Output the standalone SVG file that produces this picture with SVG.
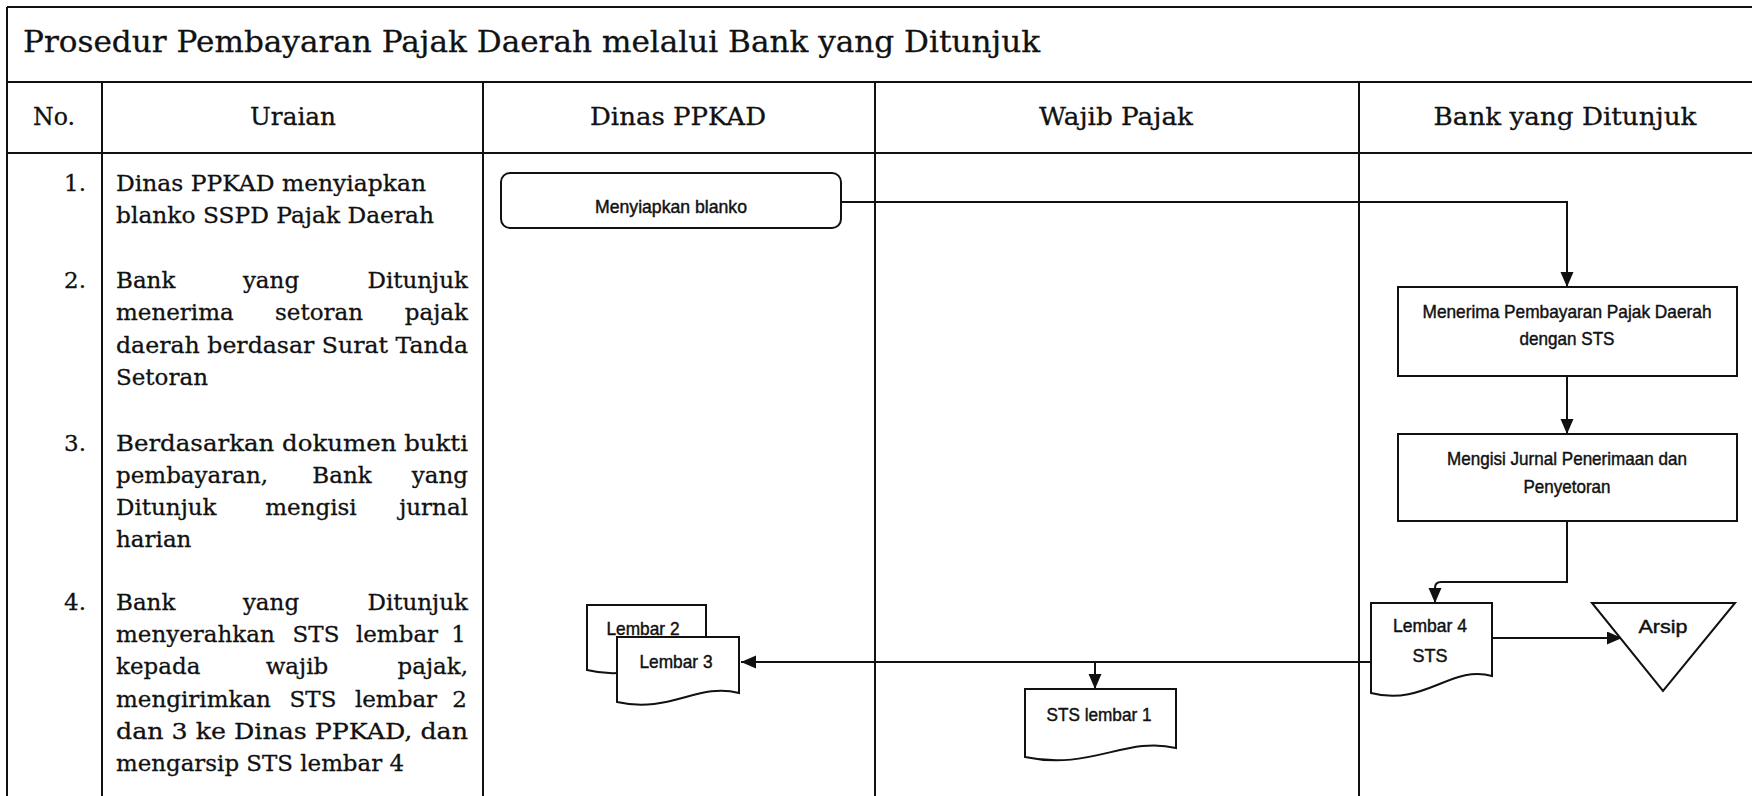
<svg xmlns="http://www.w3.org/2000/svg" width="1752" height="796" viewBox="0 0 1752 796">
<style>
.grid{stroke:#111;stroke-width:2;fill:none}
.ln{stroke:#111;stroke-width:2;fill:none}
.box{fill:#fff;stroke:#111;stroke-width:2}
.t{font-family:"DejaVu Serif","Liberation Serif",serif;fill:#111;stroke:#111;stroke-width:0.3}
.title{font-size:30px}
.hd{font-size:25px;text-anchor:middle}
.bd{font-size:23px}
.num{font-size:23px;text-anchor:end}
.mid{text-anchor:middle}
.end{text-anchor:end}
.fc{font-family:"Liberation Sans",Arial,sans-serif;font-size:19px;fill:#111;stroke:#111;stroke-width:0.45;text-anchor:middle}
</style>
<defs>
<marker id="arr" markerUnits="userSpaceOnUse" markerWidth="16" markerHeight="14" refX="15" refY="6.5" orient="auto">
<path d="M0,0 L15,6.5 L0,13 z" fill="#111"/>
</marker>
</defs>
<rect width="1752" height="796" fill="#fff"/>

<g id="table">
<line class="grid" x1="7" y1="7" x2="1752" y2="7"/>
<line class="grid" x1="7" y1="82" x2="1752" y2="82"/>
<line class="grid" x1="7" y1="153" x2="1752" y2="153"/>
<line class="grid" x1="7" y1="7" x2="7" y2="796"/>
<line class="grid" x1="102" y1="82" x2="102" y2="796"/>
<line class="grid" x1="483" y1="82" x2="483" y2="796"/>
<line class="grid" x1="875" y1="82" x2="875" y2="796"/>
<line class="grid" x1="1359" y1="82" x2="1359" y2="796"/>
<text class="t title" x="23" y="52" textLength="1017" lengthAdjust="spacingAndGlyphs">Prosedur Pembayaran Pajak Daerah melalui Bank yang Ditunjuk</text>
<text class="t hd" x="54" y="125" textLength="42" lengthAdjust="spacingAndGlyphs">No.</text>
<text class="t hd" x="293" y="125" textLength="86" lengthAdjust="spacingAndGlyphs">Uraian</text>
<text class="t hd" x="678" y="125" textLength="176" lengthAdjust="spacingAndGlyphs">Dinas PPKAD</text>
<text class="t hd" x="1116" y="125" textLength="154" lengthAdjust="spacingAndGlyphs">Wajib Pajak</text>
<text class="t hd" x="1565" y="125" textLength="263" lengthAdjust="spacingAndGlyphs">Bank yang Ditunjuk</text>
</g>

<g id="uraian">
<text class="t num" x="86" y="191">1.</text>
<text class="t num" x="86" y="288">2.</text>
<text class="t num" x="86" y="451">3.</text>
<text class="t num" x="86" y="610">4.</text>

<text class="t bd" x="116" y="191" textLength="310" lengthAdjust="spacingAndGlyphs">Dinas PPKAD menyiapkan</text>
<text class="t bd" x="116" y="223" textLength="318" lengthAdjust="spacingAndGlyphs">blanko SSPD Pajak Daerah</text>

<text class="t bd" x="116" y="288">Bank</text>
<text class="t bd mid" x="271" y="288">yang</text>
<text class="t bd end" x="468" y="288">Ditunjuk</text>
<text class="t bd" x="116" y="320">menerima</text>
<text class="t bd mid" x="319" y="320">setoran</text>
<text class="t bd end" x="468" y="320">pajak</text>
<text class="t bd" x="116" y="353" textLength="352" lengthAdjust="spacingAndGlyphs">daerah berdasar Surat Tanda</text>
<text class="t bd" x="116" y="385">Setoran</text>

<text class="t bd" x="116" y="451" textLength="352" lengthAdjust="spacingAndGlyphs">Berdasarkan dokumen bukti</text>
<text class="t bd" x="116" y="483">pembayaran,</text>
<text class="t bd mid" x="342" y="483">Bank</text>
<text class="t bd end" x="468" y="483">yang</text>
<text class="t bd" x="116" y="515">Ditunjuk</text>
<text class="t bd mid" x="311" y="515">mengisi</text>
<text class="t bd end" x="468" y="515">jurnal</text>
<text class="t bd" x="116" y="547">harian</text>

<text class="t bd" x="116" y="610">Bank</text>
<text class="t bd mid" x="271" y="610">yang</text>
<text class="t bd end" x="468" y="610">Ditunjuk</text>
<text class="t bd" x="116" y="642">menyerahkan</text>
<text class="t bd mid" x="316" y="642">STS</text>
<text class="t bd mid" x="397" y="642">lembar</text>
<text class="t bd end" x="466" y="642">1</text>
<text class="t bd" x="116" y="674">kepada</text>
<text class="t bd mid" x="297" y="674">wajib</text>
<text class="t bd end" x="468" y="674">pajak,</text>
<text class="t bd" x="116" y="707">mengirimkan</text>
<text class="t bd mid" x="313" y="707">STS</text>
<text class="t bd mid" x="396" y="707">lembar</text>
<text class="t bd end" x="467" y="707">2</text>
<text class="t bd" x="116" y="739" textLength="352" lengthAdjust="spacingAndGlyphs">dan 3 ke Dinas PPKAD, dan</text>
<text class="t bd" x="116" y="771" textLength="288" lengthAdjust="spacingAndGlyphs">mengarsip STS lembar 4</text>
</g>

<g id="connectors">
<polyline class="ln" points="841,202 1567,202 1567,287" marker-end="url(#arr)"/>
<line class="ln" x1="1567" y1="376" x2="1567" y2="434" marker-end="url(#arr)"/>
<path class="ln" d="M1567,521 V582 H1441 Q1435,582 1435,588 V603" marker-end="url(#arr)"/>
<line class="ln" x1="1492" y1="638" x2="1622" y2="638" marker-end="url(#arr)"/>
<line class="ln" x1="1371" y1="662" x2="741" y2="662" marker-end="url(#arr)"/>
<line class="ln" x1="1095" y1="662" x2="1095" y2="689" marker-end="url(#arr)"/>
</g>

<g id="menyiapkan-blanko">
<rect class="box" x="501" y="173" width="340" height="55" rx="9"/>
<text class="fc" x="671" y="213" textLength="152" lengthAdjust="spacingAndGlyphs">Menyiapkan blanko</text>
</g>

<g id="menerima-pembayaran">
<rect class="box" x="1398" y="287" width="339" height="89"/>
<text class="fc" x="1567" y="318" textLength="289" lengthAdjust="spacingAndGlyphs">Menerima Pembayaran Pajak Daerah</text>
<text class="fc" x="1567" y="345" textLength="95" lengthAdjust="spacingAndGlyphs">dengan STS</text>
</g>

<g id="mengisi-jurnal">
<rect class="box" x="1398" y="434" width="339" height="87"/>
<text class="fc" x="1567" y="465" textLength="240" lengthAdjust="spacingAndGlyphs">Mengisi Jurnal Penerimaan dan</text>
<text class="fc" x="1567" y="493" textLength="87" lengthAdjust="spacingAndGlyphs">Penyetoran</text>
</g>

<g id="lembar-4">
<path class="box" d="M1371,603 H1492 V676 C1452,664 1424,707 1371,693 Z"/>
<text class="fc" x="1430" y="632" textLength="74" lengthAdjust="spacingAndGlyphs">Lembar 4</text>
<text class="fc" x="1430" y="662" textLength="35" lengthAdjust="spacingAndGlyphs">STS</text>
</g>

<g id="arsip">
<polygon class="box" points="1592,603 1735,603 1663,691"/>
<text class="fc" x="1663" y="633" textLength="49" lengthAdjust="spacingAndGlyphs">Arsip</text>
</g>

<g id="lembar-2">
<path class="box" d="M587,605 H706 V661 C666,651 640,683 587,670 Z"/>
<text class="fc" x="643" y="635" textLength="73" lengthAdjust="spacingAndGlyphs">Lembar 2</text>
</g>

<g id="lembar-3">
<path class="box" d="M617,637 H739 V693 C698,682 670,714 617,702 Z"/>
<text class="fc" x="676" y="668" textLength="73" lengthAdjust="spacingAndGlyphs">Lembar 3</text>
</g>

<g id="sts-lembar-1">
<path class="box" d="M1025,689 H1176 V748 C1126,736 1090,771 1025,757 Z"/>
<text class="fc" x="1099" y="721" textLength="105" lengthAdjust="spacingAndGlyphs">STS lembar 1</text>
</g>
</svg>
